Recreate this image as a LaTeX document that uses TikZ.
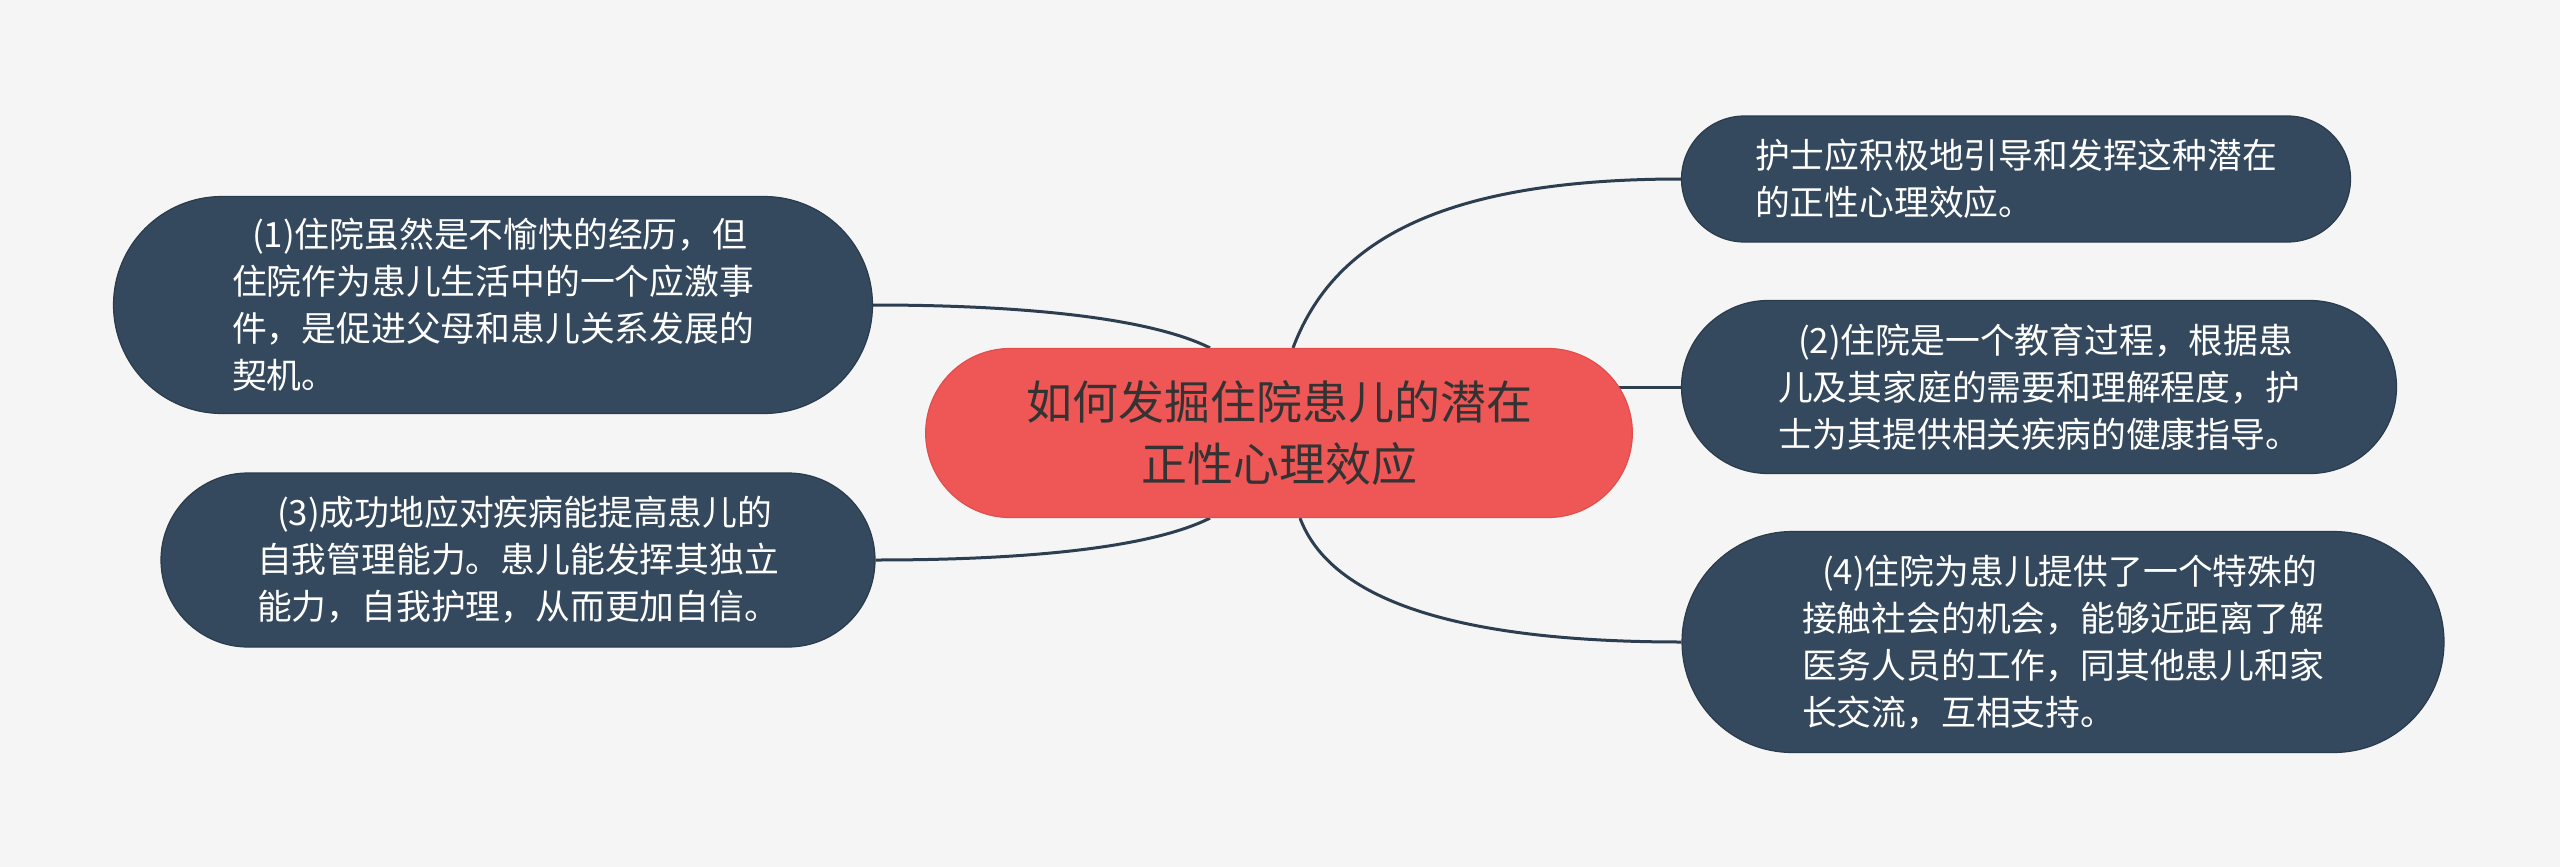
\documentclass[tikz,border=0pt]{standalone}
\usepackage{fontspec}
\setmainfont{Noto Sans CJK SC}
\usetikzlibrary{shapes.misc}

\definecolor{pageBg}{HTML}{F5F5F5}
\definecolor{leafFill}{HTML}{34495E}
\definecolor{leafLine}{HTML}{2A3B4C}
\definecolor{rootFill}{HTML}{EF5757}
\definecolor{rootLine}{HTML}{E04E4E}
\definecolor{rootText}{HTML}{333333}
\definecolor{linkColor}{HTML}{2C3E50}

\pgfdeclarelayer{back}
\pgfsetlayers{back,main}

\begin{document}
\begin{tikzpicture}[x=0.5pt, y=-0.5pt,
    leaf/.style={rounded rectangle, fill=leafFill, draw=leafLine, line width=0.6pt,
        text=white, align=left, inner xsep=0pt,
        font=\fontsize{17.4pt}{23.5pt}\selectfont},
    rootbox/.style={rounded rectangle, fill=rootFill, draw=rootLine, line width=0.6pt,
        text=rootText, align=center,
        font=\fontsize{23pt}{31pt}\selectfont},
    link/.style={draw=linkColor, line width=1.5pt}]
    % ==================================================
    % 1. 参数设置
    % ==================================================
    \def\firstIndent{\hspace*{10pt}} % 首行缩进
    % ==================================================

    % 2. 中心主题
    \node[rootbox, minimum width=360pt, minimum height=84.5pt] (root) at (1279,433)
        {如何发掘住院患儿的潜在\\正性心理效应};

    % 3. 左侧分支
    \node[leaf, minimum width=379.5pt, minimum height=108.5pt] (cause1) at (493,305)
        {\firstIndent(1)住院虽然是不愉快的经历，但\\住院作为患儿生活中的一个应激事\\件，是促进父母和患儿关系发展的\\契机。};
    \node[leaf, minimum width=357pt, minimum height=87pt] (cause3) at (518,560)
        {\firstIndent(3)成功地应对疾病能提高患儿的\\自我管理能力。患儿能发挥其独立\\能力，自我护理，从而更加自信。};

    % 4. 右侧分支
    \node[leaf, minimum width=334.5pt, minimum height=63pt] (nurse) at (2016,179)
        {护士应积极地引导和发挥这种潜在\\的正性心理效应。};
    \node[leaf, minimum width=357.5pt, minimum height=86.5pt] (cause2) at (2039,387)
        {\firstIndent(2)住院是一个教育过程，根据患\\儿及其家庭的需要和理解程度，护\\士为其提供相关疾病的健康指导。};
    \node[leaf, minimum width=381pt, minimum height=110.5pt] (cause4) at (2063,642)
        {\firstIndent(4)住院为患儿提供了一个特殊的\\接触社会的机会，能够近距离了解\\医务人员的工作，同其他患儿和家\\长交流，互相支持。};

    % 5. 背景与连线 (放在底层)
    \begin{pgfonlayer}{back}
        \fill[pageBg] (0,0) rectangle (2560,867);
        \draw[link] ([xshift=-34.5pt]root.north) .. controls +(-60,-30) and +(150,0) .. (cause1.east);
        \draw[link] ([xshift=-34.5pt]root.south) .. controls +(-60,30) and +(150,0) .. (cause3.east);
        \draw[link] ([xshift=7pt]root.north) .. controls +(37,-98) and +(-255,0) .. (nurse.west);
        \draw[link] (root.center |- cause2.west) -- (cause2.west);
        \draw[link] ([xshift=10.5pt]root.south) .. controls +(30,80) and +(-230,0) .. (cause4.west);
    \end{pgfonlayer}
    \useasboundingbox (0,0) rectangle (2560,867);
\end{tikzpicture}
\end{document}
